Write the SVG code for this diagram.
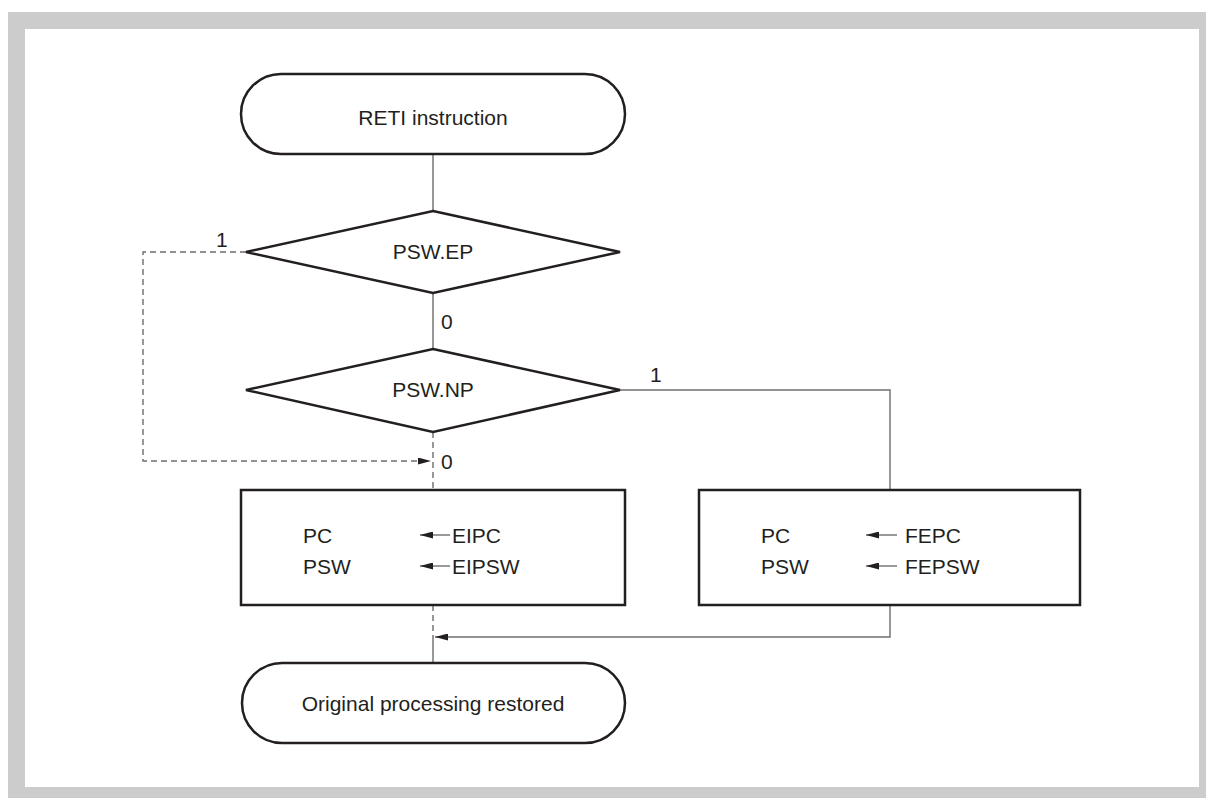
<svg xmlns="http://www.w3.org/2000/svg" width="1206" height="798" viewBox="0 0 1206 798">
<style>
.shape{fill:#fff;stroke:#231f20;stroke-width:2.5}
.conn{fill:none;stroke:#6d6d6d;stroke-width:1.4}
.dash{fill:none;stroke:#6d6d6d;stroke-width:1.4;stroke-dasharray:6,4}
.t{font-family:"Liberation Sans",Arial,sans-serif;font-size:21px;fill:#231f20}
.m{text-anchor:middle}
</style>
<defs>
<marker id="ah" viewBox="0 0 13 7" refX="13" refY="3.5" markerWidth="13" markerHeight="7" markerUnits="userSpaceOnUse" orient="auto">
<path d="M0,0 L13,3.5 L0,7 Z" fill="#231f20"/>
</marker>
</defs>
<rect x="8" y="12" width="1198" height="786" fill="#cccccc"/>
<rect x="25" y="29" width="1174" height="758" fill="#ffffff"/>
<g id="connectors">
<line class="conn" x1="433" y1="154" x2="433" y2="211"/>
<line class="conn" x1="433" y1="293" x2="433" y2="349"/>
<polyline class="dash" points="246,252 143,252 143,461 431,461" marker-end="url(#ah)"/>
<line class="dash" x1="433" y1="432" x2="433" y2="490"/>
<polyline class="conn" points="620,390 890,390 890,490"/>
<line class="dash" x1="433" y1="605" x2="433" y2="637"/>
<line class="conn" x1="433" y1="637" x2="433" y2="663"/>
<polyline class="conn" points="890,605 890,637 435,637" marker-end="url(#ah)"/>
<text class="t" x="216" y="247">1</text>
<text class="t" x="441" y="329">0</text>
<text class="t" x="650" y="382">1</text>
<text class="t" x="441" y="469">0</text>
</g>
<g id="start">
<rect class="shape" x="241" y="74" width="384" height="80" rx="40" ry="40"/>
<text class="t m" x="433" y="125">RETI instruction</text>
</g>
<g id="dec-ep">
<polygon class="shape" points="433,211 620,252 433,293 246,252"/>
<text class="t m" x="433" y="259">PSW.EP</text>
</g>
<g id="dec-np">
<polygon class="shape" points="433,349 620,390 433,432 246,390"/>
<text class="t m" x="433" y="397">PSW.NP</text>
</g>
<g id="box-ei">
<rect class="shape" x="241" y="490" width="384" height="115"/>
<text class="t" x="303" y="543">PC</text>
<text class="t" x="303" y="574">PSW</text>
<line class="conn" x1="450" y1="535" x2="420" y2="535" marker-end="url(#ah)"/>
<line class="conn" x1="450" y1="566" x2="420" y2="566" marker-end="url(#ah)"/>
<text class="t" x="452" y="543">EIPC</text>
<text class="t" x="452" y="574">EIPSW</text>
</g>
<g id="box-fe">
<rect class="shape" x="699" y="490" width="381" height="115"/>
<text class="t" x="761" y="543">PC</text>
<text class="t" x="761" y="574">PSW</text>
<line class="conn" x1="897" y1="535" x2="866" y2="535" marker-end="url(#ah)"/>
<line class="conn" x1="897" y1="566" x2="866" y2="566" marker-end="url(#ah)"/>
<text class="t" x="905" y="543">FEPC</text>
<text class="t" x="905" y="574">FEPSW</text>
</g>
<g id="end">
<rect class="shape" x="242" y="663" width="383" height="80" rx="40" ry="40"/>
<text class="t m" x="433" y="711">Original processing restored</text>
</g>
</svg>
